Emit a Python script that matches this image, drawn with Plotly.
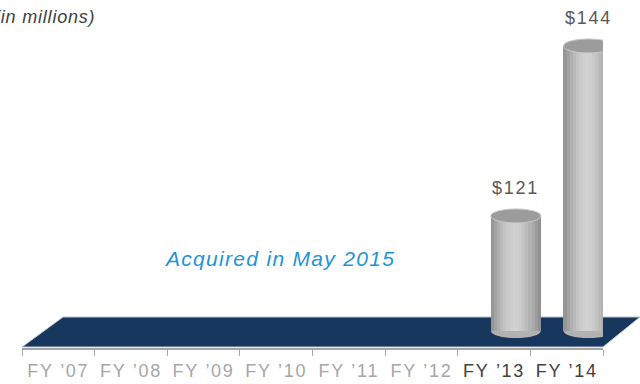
import plotly.graph_objects as go

# Fiscal years and revenue (in $ millions); earlier years have no figure
years = ["FY ’07", "FY ’08", "FY ’09", "FY ’10", "FY ’11", "FY ’12", "FY ’13", "FY ’14"]
revenue = [None, None, None, None, None, None, 121, 144]
highlight = [False, False, False, False, False, False, True, True]

# Geometry of the pseudo-3D cylinders (category units)
CYL_LEFT = -0.045      # offset of cylinder's left edge from category centre
CYL_WIDTH = 0.69
Y_RANGE = [103.13, 150.22]
FLOOR_VALUE = 105.43   # value where the cylinders stand on the floor
CAP_H = 0.95           # half-height of elliptical caps, in value units

# Horizontal shading profile across a cylinder (grey levels, left -> right)
shade = [150, 162, 175, 186, 195, 202, 207, 209, 207, 202, 195, 187, 178, 168, 157, 145]


def wide(text, spacing):
    """Wrap text in a span with extra letter spacing."""
    return f'<span style="letter-spacing:{spacing}px">{text}</span>'


fig = go.Figure()
n = len(shade)
sw = CYL_WIDTH / n
heights = [None if v is None else v - FLOOR_VALUE for v in revenue]
for k, g in enumerate(shade):
    fig.add_trace(go.Bar(
        x=years, y=heights, base=FLOOR_VALUE,
        offset=CYL_LEFT + k * sw, width=sw * 1.08,
        marker=dict(color=f"rgb({g},{g},{g})", line=dict(width=0)),
        hoverinfo="skip", showlegend=False,
    ))

# Floor plane (paper coordinates)
L, R, T, B = 22, 37, 0, 36
W, H = 640 - L - R, 384 - T - B


def px(x, y):
    return (x - L) / W, (H - y) / H


pts = [px(22, 347), px(603, 347), px(640, 317), px(63, 317)]
path = "M " + " L ".join(f"{a:.4f},{b:.4f}" for a, b in pts) + " Z"
shapes = [dict(type="path", path=path, xref="paper", yref="paper",
               fillcolor="#17375E", line=dict(color="#c4c8cf", width=1), layer="below")]

# Elliptical bottoms and tops of cylinders, with value labels
annotations = []
for i, v in enumerate(revenue):
    if v is None:
        continue
    x0, x1 = i + CYL_LEFT, i + CYL_LEFT + CYL_WIDTH
    shapes.append(dict(type="circle", xref="x", yref="y", x0=x0 + 0.002, x1=x1 - 0.002,
                       y0=FLOOR_VALUE - CAP_H, y1=FLOOR_VALUE + CAP_H,
                       fillcolor="#b2b2b2", line=dict(width=0), layer="below"))
    shapes.append(dict(type="circle", xref="x", yref="y", x0=x0, x1=x1,
                       y0=v - CAP_H, y1=v + CAP_H,
                       fillcolor="#9c9c9c", line=dict(color="#c9c9c9", width=1), layer="above"))
    annotations.append(dict(x=i + CYL_LEFT + CYL_WIDTH / 2, y=v, xref="x", yref="y",
                            text=wide(f"${v}", 1.7), showarrow=False, yshift=28,
                            font=dict(size=18, color="#595959", family="Liberation Sans")))

annotations.append(dict(x=px(97, 0)[0], y=px(0, 17)[1], xref="paper", yref="paper",
                        xanchor="right", yanchor="middle",
                        text=wide("<i>(in millions)</i>", 0.8),
                        showarrow=False,
                        font=dict(size=18, color="#404040", family="Liberation Sans")))
annotations.append(dict(x=px(279, 0)[0], y=px(0, 258)[1], xref="paper", yref="paper",
                        xanchor="center", yanchor="middle",
                        text=wide("<i>Acquired in May 2015</i>", 1.3),
                        showarrow=False,
                        font=dict(size=21, color="#1f93d6", family="Liberation Sans")))

ticktext = [f'<span style="color:{"#404040" if h else "#a6a6a6"};letter-spacing:1.7px">{y}</span>'
            for y, h in zip(years, highlight)]

fig.update_layout(
    width=640, height=384,
    margin=dict(l=L, r=R, t=T, b=B),
    paper_bgcolor="white", plot_bgcolor="rgba(0,0,0,0)",
    barmode="overlay", bargap=0,
    shapes=shapes, annotations=annotations,
    xaxis=dict(type="category", categoryorder="array", categoryarray=years,
               range=[-0.5, len(years) - 0.5],
               tickmode="array", tickvals=years, ticktext=ticktext,
               tickson="boundaries", ticks="outside", ticklen=6, tickcolor="#a6a6a6",
               ticklabelstandoff=6,
               showline=True, linecolor="#a6a6a6", linewidth=1.5,
               showgrid=False, zeroline=False,
               tickfont=dict(size=18, family="Liberation Sans", color="#a6a6a6")),
    yaxis=dict(visible=False, range=Y_RANGE, fixedrange=True),
    font=dict(family="Liberation Sans"),
)

fig.write_html("out.html")
